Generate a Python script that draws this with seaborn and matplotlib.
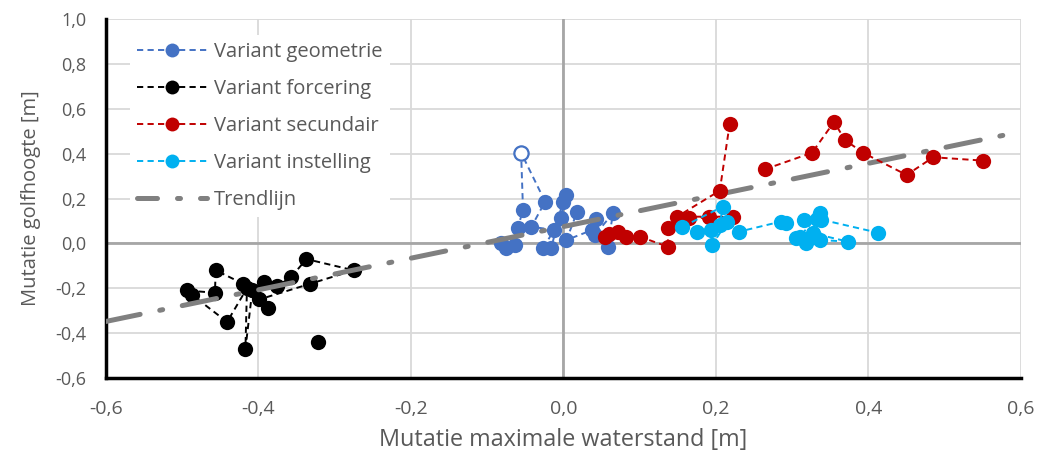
import numpy as np
import pandas as pd
import matplotlib
matplotlib.use("Agg")
import matplotlib.pyplot as plt
import seaborn as sns
from matplotlib.lines import Line2D
from matplotlib.ticker import FuncFormatter, MultipleLocator

# ---- data: mutatie maximale waterstand (x) vs mutatie golfhoogte (y) ----
# each series is split into segments; a segment is one connected dashed path
geometrie_seg = [0] * 21
geometrie_x = [-0.082, -0.075, -0.064, -0.060, -0.053, -0.0555, -0.024, -0.042, -0.012,
               -0.027, -0.016, -0.001, 0.003, -0.003, 0.018, 0.004, 0.038, 0.043, 0.041,
               0.065, 0.058]
geometrie_y = [0.000, -0.022, -0.007, 0.067, 0.149, 0.404, 0.186, 0.074, 0.060,
               -0.022, -0.022, 0.186, 0.216, 0.112, 0.141, 0.015, 0.060, 0.110, 0.037,
               0.134, -0.015]
geometrie_open = [0.0 if i != 5 else 1.0 for i in range(21)]

forcering_seg = [0] * 17 + [1]
forcering_x = [-0.420, -0.456, -0.457, -0.494, -0.487, -0.441, -0.415, -0.417, -0.408,
               -0.392, -0.375, -0.357, -0.337, -0.275, -0.332, -0.399, -0.388, -0.322]
forcering_y = [-0.180, -0.120, -0.220, -0.210, -0.230, -0.350, -0.200, -0.470, -0.210,
               -0.170, -0.190, -0.150, -0.070, -0.120, -0.180, -0.250, -0.290, -0.440]

secundair_seg = [0] * 13 + [1] * 8
secundair_x = [0.060, 0.054, 0.071, 0.082, 0.100, 0.137, 0.137, 0.165, 0.222, 0.191,
               0.149, 0.205, 0.218,
               0.264, 0.326, 0.355, 0.369, 0.393, 0.450, 0.485, 0.550]
secundair_y = [0.040, 0.030, 0.052, 0.030, 0.030, -0.015, 0.067, 0.112, 0.119, 0.119,
               0.119, 0.235, 0.532,
               0.330, 0.404, 0.542, 0.461, 0.404, 0.305, 0.384, 0.369]

instelling_seg = [0] * 22
instelling_x = [0.156, 0.209, 0.205, 0.175, 0.194, 0.195, 0.215, 0.230, 0.285, 0.292,
                0.316, 0.338, 0.336, 0.310, 0.305, 0.318, 0.330, 0.336, 0.373, 0.327,
                0.333, 0.412]
instelling_y = [0.074, 0.164, 0.082, 0.052, 0.060, -0.007, 0.097, 0.052, 0.097, 0.090,
                0.104, 0.104, 0.134, 0.030, 0.023, 0.000, 0.030, 0.015, 0.008, 0.045,
                0.110, 0.048]

# linear trend line (slope, intercept)
trend_coef = [0.705, 0.075]

labels = ["Variant geometrie", "Variant forcering", "Variant secundair",
          "Variant instelling", "Trendlijn"]
colors = ["#4472C4", "#000000", "#C00000", "#00B0F0", "#808080"]

series = [
    (geometrie_x, geometrie_y, geometrie_seg),
    (forcering_x, forcering_y, forcering_seg),
    (secundair_x, secundair_y, secundair_seg),
    (instelling_x, instelling_y, instelling_seg),
]

sns.set_theme(style="white")
plt.rcParams["font.family"] = ["Open Sans", "DejaVu Sans"]
text_col = "#595959"

fig = plt.figure(figsize=(10.38, 4.59), dpi=100)
ax = fig.add_axes([0.102, 0.1765, 0.8816, 0.782])

zorders = [3, 3.2, 4, 4.2]
for (xs, ys, seg), col, lab, z in zip(series, colors, labels, zorders):
    df = pd.DataFrame({"x": xs, "y": ys, "seg": seg})
    sns.lineplot(data=df, x="x", y="y", units="seg", estimator=None, sort=False,
                 color=col, linestyle=(0, (3.2, 2.2)), linewidth=1.4,
                 marker="o", markersize=11, markeredgewidth=0,
                 ax=ax, legend=False, zorder=z)

# hollow marker in the geometrie series
gdf = pd.DataFrame({"x": geometrie_x, "y": geometrie_y, "open": geometrie_open})
gdf = gdf[gdf["open"] > 0]
sns.scatterplot(data=gdf, x="x", y="y", s=105, color="white", edgecolor=colors[0],
                linewidth=1.6, ax=ax, legend=False, zorder=5)

# trend line over the full x range
tx = np.array([-0.6, 0.6])
tdf = pd.DataFrame({"x": tx, "y": np.polyval(trend_coef, tx)})
sns.lineplot(data=tdf, x="x", y="y", color=colors[4], linewidth=3.6,
             linestyle=(0, (7, 4, 0.6, 4)), dash_capstyle="round",
             solid_capstyle="round", ax=ax, legend=False, zorder=3.5)

ax.set_xlim(-0.6, 0.6)
ax.set_ylim(-0.6, 1.0)
ax.xaxis.set_major_locator(MultipleLocator(0.2))
ax.yaxis.set_major_locator(MultipleLocator(0.2))


def comma_fmt(v, _pos):
    if abs(v) < 1e-9:
        v = 0.0
    return f"{v:.1f}".replace(".", ",")


ax.xaxis.set_major_formatter(FuncFormatter(comma_fmt))
ax.yaxis.set_major_formatter(FuncFormatter(comma_fmt))

ax.grid(True, color="#D9D9D9", linewidth=1.3, zorder=0)
ax.set_axisbelow(True)
ax.axhline(0, color="#A6A6A6", linewidth=2, zorder=1)
ax.axvline(0, color="#A6A6A6", linewidth=2, zorder=1)

for s in ["top", "right"]:
    ax.spines[s].set_visible(False)
for s in ["left", "bottom"]:
    ax.spines[s].set_color("black")
    ax.spines[s].set_linewidth(2.5)

ax.tick_params(axis="x", length=0, pad=16, labelsize=14, labelcolor=text_col)
ax.tick_params(axis="y", length=0, pad=14, labelsize=13, labelcolor=text_col)

ax.set_xlabel("Mutatie maximale waterstand [m]", fontsize=16.8, color=text_col, labelpad=7)
ax.set_ylabel("Mutatie golfhoogte [m]", fontsize=14.5, color=text_col, labelpad=10)

handles = []
for col, lab in zip(colors[:4], labels[:4]):
    handles.append(Line2D([], [], color=col, linestyle=(0, (3.2, 2.2)), linewidth=1.4,
                          marker="o", markersize=10, markeredgewidth=0, label=lab))
handles.append(Line2D([], [], color=colors[4], linewidth=3.6,
                      linestyle=(0, (4, 4, 0.6, 4)), dash_capstyle="round",
                      label=labels[4]))
leg = ax.legend(handles=handles, loc="upper left", bbox_to_anchor=(0.015, 0.985),
                frameon=True, facecolor="white", edgecolor="none", framealpha=1,
                fontsize=14.5, handlelength=3.5, handletextpad=0.35,
                labelspacing=0.85, borderpad=0.35)
for t in leg.get_texts():
    t.set_color(text_col)
leg.set_zorder(6)

fig.savefig("out.png", dpi=100)
